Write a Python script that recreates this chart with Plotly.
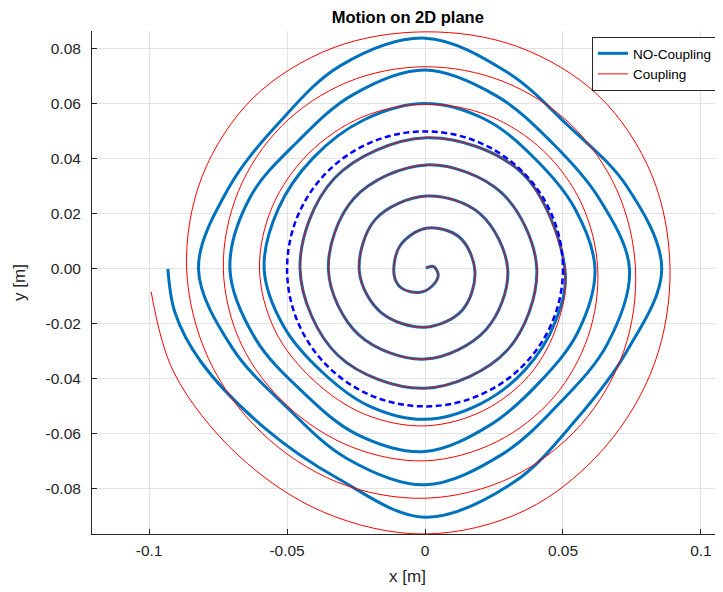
import numpy as np
import plotly.graph_objects as go

# Shared inner spiral (both runs coincide here), read as x/y pairs
inner_x = [0.0003, 0.0030, 0.0048, 0.0024, -0.0018, -0.0085, -0.0112, -0.0090, 0.0005, 0.0125, 0.0181, 0.0135, 0.0000,
           -0.0160, -0.0238, -0.0180, 0.0005, 0.0200, 0.0300, 0.0220, 0.0000, -0.0240, -0.0350, -0.0257, 0.0005,
           0.0277, 0.0405, 0.0297, 0.0000, -0.0315, -0.0453, -0.0329, 0.0005, 0.0350, 0.0507]
inner_y = [0.0003, 0.0009, -0.0022, -0.0064, -0.0085, -0.0070, -0.0022, 0.0085, 0.0148, 0.0115, -0.0010, -0.0150, -0.0212,
           -0.0158, -0.0010, 0.0180, 0.0265, 0.0200, -0.0005, -0.0222, -0.0328, -0.0240, -0.0005, 0.0257, 0.0378,
           0.0277, 0.0000, -0.0297, -0.0434, -0.0315, 0.0000, 0.0329, 0.0477, 0.0350, 0.0000]

# Outer turns, read as (angle in degrees, clockwise from +x, radius in m)
blue_angle = [-22.5, -45, -67.5, -90, -112.5, -135, -157.5, -180, -202.5, -225, -247.5, -270, -292.5, -315,
              -337.5, -360, -382.5, -405, -427.5, -450, -472.5, -495, -517.5, -540, -562.5, -585, -607.5, -630,
              -652.5, -675, -697.5, -720, -742.5, -765, -787.5, -810, -832.5, -855, -877.5, -900, -922.5, -945,
              -967.5, -990, -1012.5, -1035, -1057.5, -1080, -1102.5, -1125, -1147.5, -1170, -1192.5, -1215,
              -1237.5, -1250, -1260]
blue_r = [0.0510, 0.0516, 0.0530, 0.0547, 0.0538, 0.0529, 0.0553, 0.0583, 0.0575, 0.0572, 0.0585, 0.0601, 0.0585,
          0.0565, 0.0585, 0.0616, 0.0600, 0.0585, 0.0615, 0.0664, 0.0650, 0.0630, 0.0665, 0.0707, 0.0685, 0.0654,
          0.0685, 0.0723, 0.0680, 0.0650, 0.0680, 0.0741, 0.0715, 0.0690, 0.0730, 0.0785, 0.0745, 0.0710, 0.0755,
          0.0821, 0.0770, 0.0750, 0.0800, 0.0839, 0.0775, 0.0735, 0.0790, 0.0858, 0.0790, 0.0775, 0.0840, 0.0903,
          0.0825, 0.0820, 0.0880, 0.0920, 0.0932]

red_angle = [-22.5, -45, -67.5, -90, -112.5, -135, -157.5, -180, -202.5, -225, -247.5, -270, -292.5, -315,
             -337.5, -360, -382.5, -405, -427.5, -450, -472.5, -495, -517.5, -540, -562.5, -585, -607.5, -630,
             -652.5, -675, -697.5, -720, -742.5, -765, -787.5, -810, -832.5, -855, -877.5, -900, -922.5, -945,
             -967.5, -990, -1012.5, -1035, -1057.5, -1080, -1102.5, -1125, -1147.5, -1170, -1192.5, -1215,
             -1237.5, -1255.2]
red_r = [0.0520, 0.0540, 0.0557, 0.0571, 0.0572, 0.0572, 0.0588, 0.0600, 0.0598, 0.0595, 0.0597, 0.0599, 0.0603,
         0.0607, 0.0615, 0.0626, 0.0640, 0.0660, 0.0680, 0.0698, 0.0700, 0.0705, 0.0720, 0.0731, 0.0733, 0.0735,
         0.0735, 0.0735, 0.0738, 0.0745, 0.0752, 0.0763, 0.0780, 0.0800, 0.0820, 0.0834, 0.0838, 0.0840, 0.0850,
         0.0864, 0.0875, 0.0880, 0.0870, 0.0862, 0.0875, 0.0890, 0.0890, 0.0888, 0.0900, 0.0920, 0.0950, 0.0964,
         0.0958, 0.0958, 0.0985, 0.0996]

circle_r = 0.05

x_ticks = [-0.1, -0.05, 0, 0.05, 0.1]
x_ticklabels = ["-0.1", "-0.05", "0", "0.05", "0.1"]
y_ticks = [-0.08, -0.06, -0.04, -0.02, 0.0, 0.02, 0.04, 0.06, 0.08]
y_ticklabels = ["-0.08", "-0.06", "-0.04", "-0.02", "0.00", "0.02", "0.04", "0.06", "0.08"]


def polar_to_xy(angles, radii):
    a = np.radians(np.array(angles, dtype=float))
    r = np.array(radii, dtype=float)
    return list(r * np.cos(a)), list(r * np.sin(a))


bx, by = polar_to_xy(blue_angle, blue_r)
rx, ry = polar_to_xy(red_angle, red_r)

FONT = "Liberation Sans, Arial, sans-serif"

fig = go.Figure()
fig.add_trace(go.Scatter(x=inner_x + bx, y=inner_y + by, mode="lines", name="NO-Coupling",
                         line=dict(color="#0072BD", width=3, shape="spline", smoothing=1.0)))
fig.add_trace(go.Scatter(x=inner_x + rx, y=inner_y + ry, mode="lines", name="Coupling",
                         line=dict(color="#FF0000", width=1, shape="spline", smoothing=1.0)))

fig.add_shape(type="circle", xref="x", yref="y", x0=-circle_r, y0=-circle_r, x1=circle_r, y1=circle_r,
              line=dict(color="#0000FF", width=2.5, dash="6px,3.5px"), layer="above")

# The page places the figure 8px in from the window corner, so margins compensate for that offset.
fig.update_layout(
    width=723, height=592,
    margin=dict(l=84, r=8, t=23, b=66),
    paper_bgcolor="white", plot_bgcolor="white",
    font=dict(family=FONT, color="#262626", size=15),
    title=dict(text="<b>Motion on 2D plane</b>", x=0.553, xanchor="center", y=0.984, yanchor="middle",
               font=dict(size=16.5, color="black", family=FONT)),
    legend=dict(x=0.7924, xanchor="left", y=0.988, yanchor="top", bgcolor="white",
                bordercolor="#262626", borderwidth=1, font=dict(size=13.5, color="black"),
                tracegroupgap=0, itemwidth=30),
    showlegend=True,
)
fig.update_xaxes(range=[-0.1207, 0.108], tickvals=x_ticks, ticktext=x_ticklabels, automargin=False,
                 showline=True, linecolor="#262626", linewidth=1, ticks="inside", ticklen=5,
                 tickcolor="#262626", showgrid=True, gridcolor="#E3E3E3", gridwidth=1, zeroline=False,
                 ticklabelstandoff=2,
                 title=dict(text="x [m]", font=dict(size=17), standoff=12), tickfont=dict(size=15.5))
fig.update_yaxes(range=[-0.0964, 0.0865], tickvals=y_ticks, ticktext=y_ticklabels, automargin=False,
                 showline=True, linecolor="#262626", linewidth=1, ticks="inside", ticklen=5,
                 tickcolor="#262626", showgrid=True, gridcolor="#E3E3E3", gridwidth=1, zeroline=False,
                 ticklabelstandoff=7,
                 title=dict(text="y [m]", font=dict(size=17), standoff=15), tickfont=dict(size=15.5))

fig.write_html("out.html")
